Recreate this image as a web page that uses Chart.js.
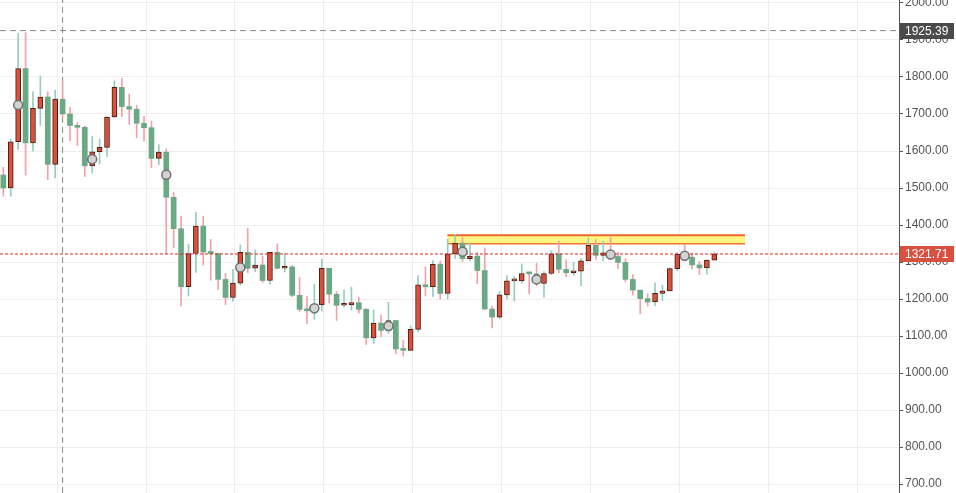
<!DOCTYPE html>
<html><head><meta charset="utf-8">
<style>html,body{margin:0;padding:0;background:#fff;overflow:hidden}#wrap{width:956px;height:493px}</style>
<script src="https://cdn.jsdelivr.net/npm/chart.js@4.4.1/dist/chart.umd.min.js"></script>
</head><body><div id="wrap"><canvas id="c" width="956" height="493"></canvas></div>
<script>
// ---- categories (monthly candles) ----
const months = [
 '2011-06','2011-07','2011-08','2011-09','2011-10','2011-11','2011-12',
 '2012-01','2012-02','2012-03','2012-04','2012-05','2012-06','2012-07','2012-08','2012-09','2012-10','2012-11','2012-12',
 '2013-01','2013-02','2013-03','2013-04','2013-05','2013-06','2013-07','2013-08','2013-09','2013-10','2013-11','2013-12',
 '2014-01','2014-02','2014-03','2014-04','2014-05','2014-06','2014-07','2014-08','2014-09','2014-10','2014-11','2014-12',
 '2015-01','2015-02','2015-03','2015-04','2015-05','2015-06','2015-07','2015-08','2015-09','2015-10','2015-11','2015-12',
 '2016-01','2016-02','2016-03','2016-04','2016-05','2016-06','2016-07','2016-08','2016-09','2016-10','2016-11','2016-12',
 '2017-01','2017-02','2017-03','2017-04','2017-05','2017-06','2017-07','2017-08','2017-09','2017-10','2017-11','2017-12',
 '2018-01','2018-02','2018-03','2018-04','2018-05','2018-06','2018-07','2018-08','2018-09','2018-10','2018-11','2018-12',
 '2019-01','2019-02','2019-03','2019-04','2019-05','2019-06'
];
// ---- series values ----
const openP = [
 1535,1500,1625,1823,1622,1715,1746,
 1564,1740,1700,1669,1664,1560,1598,1610,1692,1772,1720,1713,
 1675,1663,1580,1597,1475,1390,1233,1323,1397,1327,1323,1253,
 1204,1243,1326,1283,1292,1250,1326,1283,1287,1210,1172,1168,
 1184,1283,1213,1183,1184,1190,1172,1095,1135,1115,1142,1065,
 1061,1118,1238,1233,1294,1215,1322,1351,1309,1316,1277,1173,
 1151,1211,1249,1249,1269,1268,1242,1269,1322,1280,1271,1275,
 1303,1345,1318,1325,1315,1299,1253,1224,1201,1192,1215,1222,
 1282,1321,1313,1292,1284,1305
];
const highP = [
 1556,1632,1918,1920,1760,1803,1760,
 1764,1790,1718,1677,1668,1639,1633,1693,1790,1796,1754,1724,
 1694,1681,1617,1606,1488,1424,1348,1434,1424,1361,1323,1269,
 1280,1346,1391,1332,1316,1326,1349,1323,1290,1258,1208,1240,
 1307,1283,1220,1224,1232,1205,1175,1170,1157,1191,1142,1088,
 1127,1263,1287,1304,1303,1362,1375,1367,1352,1326,1338,1181,
 1220,1263,1261,1295,1273,1296,1274,1331,1357,1306,1299,1309,
 1366,1361,1356,1366,1326,1309,1266,1224,1214,1243,1237,1284,
 1326,1347,1324,1302,1306,1327
];
const lowP = [
 1478,1478,1604,1535,1600,1669,1523,
 1527,1690,1628,1615,1531,1540,1565,1585,1690,1693,1672,1636,
 1627,1555,1563,1322,1338,1181,1208,1272,1292,1251,1226,1185,
 1194,1238,1271,1274,1245,1240,1281,1273,1206,1166,1133,1145,
 1167,1190,1142,1178,1170,1162,1077,1080,1098,1107,1052,1046,
 1061,1111,1208,1206,1199,1200,1310,1301,1303,1241,1171,1122,
 1146,1200,1194,1243,1214,1236,1204,1266,1271,1260,1264,1236,
 1303,1307,1303,1310,1282,1246,1211,1160,1181,1182,1196,1221,
 1276,1303,1281,1266,1267,1305
];
const closeP = [
 1500,1625,1823,1622,1715,1746,1564,
 1740,1700,1669,1664,1560,1598,1610,1692,1772,1720,1713,1675,
 1663,1580,1597,1475,1390,1233,1323,1397,1327,1323,1253,1204,
 1243,1326,1283,1292,1250,1326,1283,1287,1210,1172,1168,1184,
 1283,1213,1183,1184,1190,1172,1095,1135,1115,1142,1065,1061,
 1118,1238,1233,1294,1215,1322,1351,1309,1316,1277,1173,1151,
 1211,1249,1249,1269,1268,1242,1269,1322,1280,1271,1275,1303,
 1345,1318,1325,1315,1299,1253,1224,1201,1192,1215,1222,1282,
 1321,1313,1292,1284,1305,1321.71
];
// marker circles
const markerMonths = ['2011-08','2012-06','2013-04','2014-02','2014-12','2015-10','2016-08','2017-06','2018-04','2019-02'];
const markerValues = [1724,1578,1536,1285,1175,1127,1328,1253,1320,1317];
// tick labels of the price axis
const yTicks = [700,800,900,1000,1100,1200,1300,1400,1500,1600,1700,1800,1900,2000];
// reference levels
const peakLevel = 1925.39;
const lastPrice = 1321.71;
const zoneLow = 1349, zoneHigh = 1372;
const zoneFromMonth = '2016-06', zoneToMonth = '2019-10';
const cursorMonth = '2012-02';

// ---- layout constants ----
const X_MIN = -0.45, X_MAX = 120.94, Y_MIN = 675.7, Y_MAX = 2008.1;
const UP_BODY = '#d9503c', UP_BORDER = '#4a1c12', UP_WICK = '#98ccbd';
const DN_BODY = '#6ba884', DN_WICK = '#f2a0aa';

function idxOf(m){ // month string -> index (may extend past data)
  const [y, mo] = m.split('-').map(Number);
  const [y0, m0] = months[0].split('-').map(Number);
  return (y - y0) * 12 + (mo - m0);
}
const isUp = i => closeP[i] >= openP[i];
const wicks = months.map((m, i) => ({x: i, y: [lowP[i], highP[i]]}));
const bodies = months.map((m, i) => ({x: i, y: [openP[i], closeP[i]]}));
const markers = markerMonths.map((m, k) => ({x: idxOf(m), y: markerValues[k]}));
const firstJan = months.findIndex(m => m.endsWith('-01'));
const yearGrid = [];
for (let v = firstJan + 0.27; v <= X_MAX; v += 12) yearGrid.push(v);
const zoneFrom = idxOf(zoneFromMonth) - 0.05, zoneTo = idxOf(zoneToMonth) + 0.15;
const cursorX = idxOf(cursorMonth);

const priceTags = {
  id: 'priceTags',
  afterDraw(chart) {
    const y = chart.scales.y, c = chart.ctx;
    [{v: peakLevel, bg: '#4b4b4b'}, {v: lastPrice, bg: '#d9503f'}].forEach(t => {
      const py = Math.round(y.getPixelForValue(t.v));
      c.save();
      c.fillStyle = t.bg;
      c.fillRect(y.left + 1, py - 8, 54, 16);
      c.fillStyle = '#ffffff';
      c.font = '12px "Liberation Sans", Arial, sans-serif';
      c.textBaseline = 'middle';
      c.textAlign = 'left';
      c.fillText(t.v.toFixed(2), y.left + 6, py + 0.5);
      c.restore();
    });
  }
};

new Chart(document.getElementById('c'), {
  type: 'bar',
  data: {
    datasets: [
      {type: 'scatter', label: 'markers', data: markers, pointRadius: 4.5, pointBackgroundColor: '#d3d3d3',
       pointBorderColor: '#707070', pointBorderWidth: 1.5, order: 0},
      {type: 'line', label: 'last', data: [{x: X_MIN, y: lastPrice}, {x: X_MAX, y: lastPrice}],
       borderColor: '#e3251c', borderWidth: 1, borderDash: [3, 2], pointRadius: 0, fill: false, order: 1},
      {label: 'body', data: bodies, barThickness: 5, grouped: false, minBarLength: 2, borderSkipped: false,
       backgroundColor: ctx => isUp(ctx.dataIndex) ? UP_BODY : DN_BODY,
       borderColor: ctx => isUp(ctx.dataIndex) ? UP_BORDER : DN_BODY,
       borderWidth: ctx => isUp(ctx.dataIndex) ? 1 : 0, order: 2},
      {label: 'wick', data: wicks, barThickness: 1, grouped: false,
       backgroundColor: ctx => isUp(ctx.dataIndex) ? UP_WICK : DN_WICK, borderWidth: 0, order: 3},
      {type: 'line', label: 'zoneTop', data: [{x: zoneFrom, y: zoneHigh}, {x: zoneTo, y: zoneHigh}],
       borderColor: '#f0642e', borderWidth: 2, pointRadius: 0, fill: false, order: 4},
      {type: 'line', label: 'zoneBottom', data: [{x: zoneFrom, y: zoneLow}, {x: zoneTo, y: zoneLow}],
       borderColor: '#f0742e', borderWidth: 1.5, pointRadius: 0, fill: '-1', backgroundColor: 'rgba(253,247,122,0.95)', order: 4},
      {type: 'line', label: 'peak', data: [{x: X_MIN, y: peakLevel}, {x: X_MAX, y: peakLevel}],
       borderColor: '#8a8a8a', borderWidth: 1, borderDash: [6, 4], pointRadius: 0, fill: false, order: 5},
      {type: 'line', label: 'cursor', data: [{x: cursorX, y: Y_MIN}, {x: cursorX, y: Y_MAX}],
       borderColor: '#8a8a8a', borderWidth: 1, borderDash: [6, 4], pointRadius: 0, fill: false, order: 5}
    ]
  },
  options: {
    responsive: false, animation: false, events: [],
    layout: {padding: 0, autoPadding: false},
    plugins: {legend: {display: false}, tooltip: {enabled: false}},
    scales: {
      x: {type: 'linear', min: X_MIN, max: X_MAX, offset: false, position: 'bottom',
          grid: {offset: false, color: '#eeeeee', drawTicks: false, lineWidth: 1},
          border: {display: false}, ticks: {display: false},
          afterBuildTicks: s => { s.ticks = yearGrid.map(v => ({value: v})); },
          afterFit: s => { s.height = 0; s.paddingLeft = 0; s.paddingRight = 0; }},
      y: {type: 'linear', position: 'right', min: Y_MIN, max: Y_MAX,
          grid: {color: '#eeeeee', tickColor: '#555555', tickLength: 4, drawTicks: true},
          border: {display: true, color: '#555555', width: 1},
          ticks: {padding: 2, color: '#555555', autoSkip: false,
                  font: {family: '"Liberation Sans", Arial, sans-serif', size: 12},
                  callback: v => Number(v).toFixed(2)},
          afterBuildTicks: s => { s.ticks = yTicks.map(v => ({value: v})); },
          afterFit: s => { s.width = 57; s.paddingTop = 0; s.paddingBottom = 0; }}
    }
  },
  plugins: [priceTags]
});
</script></body></html>
